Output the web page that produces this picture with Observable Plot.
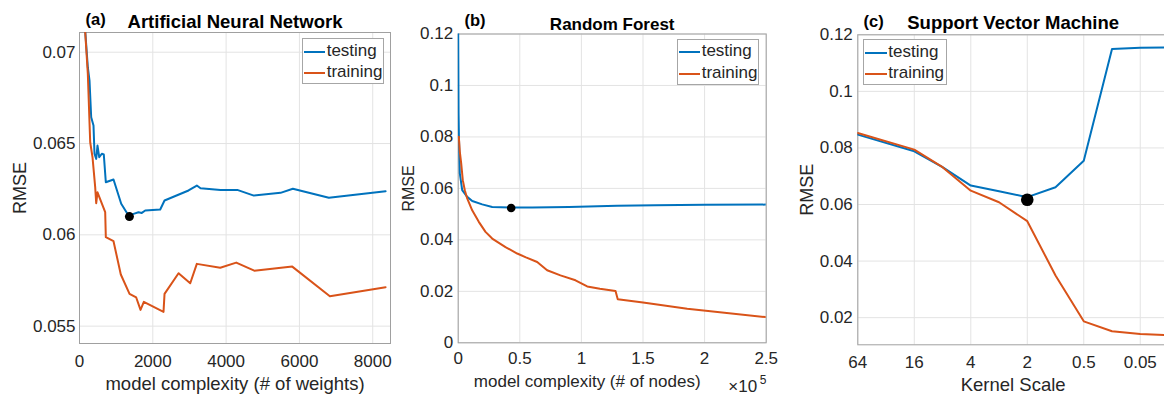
<!DOCTYPE html>
<html><head><meta charset="utf-8">
<script src="https://cdn.jsdelivr.net/npm/d3@7"></script>
<script src="https://cdn.jsdelivr.net/npm/@observablehq/plot@0.6"></script>
<style>
html,body{margin:0;padding:0;background:#fff;overflow:hidden}
#fig{position:relative;width:1164px;height:396px;overflow:hidden;font-family:'Liberation Sans',Arial,Helvetica,sans-serif;color:#262626}
.abs{position:absolute}
.lg{position:absolute;border:1px solid #a6a6a6;background:#fff;box-sizing:border-box}
.lgline{position:absolute;height:2px}
.lgtxt{position:absolute;font-size:17px;line-height:17px;color:#262626;white-space:nowrap}
</style></head><body><div id="fig"></div>
<script>
// ---- data ----
const annTestX = [140, 227, 273, 319, 382, 409, 456, 491, 538, 609, 663, 718, 928, 1138, 1337, 1474, 1610, 1700, 1793, 2202, 2320, 2975, 3201, 3302, 3848, 4304, 4757, 5485, 5821, 6803, 8351];
const annTestY = [0.0716, 0.06918, 0.06845, 0.06644, 0.06599, 0.06444, 0.06416, 0.06489, 0.06425, 0.06444, 0.0644, 0.06288, 0.06303, 0.0617, 0.06106, 0.06115, 0.06124, 0.0612, 0.06133, 0.06139, 0.06188, 0.06243, 0.0627, 0.06255, 0.06246, 0.06246, 0.06215, 0.0623, 0.06252, 0.06203, 0.06239];
const annTrainX = [140, 227, 292, 355, 428, 456, 491, 701, 718, 928, 1127, 1365, 1547, 1665, 1755, 2292, 2320, 2702, 3021, 3201, 3840, 4276, 4768, 5805, 6831, 8351];
const annTrainY = [0.0716, 0.06882, 0.06507, 0.06425, 0.06261, 0.06173, 0.06233, 0.06124, 0.05987, 0.05965, 0.05783, 0.05677, 0.05657, 0.05589, 0.05633, 0.05578, 0.05677, 0.0579, 0.05735, 0.05841, 0.0582, 0.05848, 0.05804, 0.05826, 0.05664, 0.05713];
const annBest = [{x: 1362, y: 0.0610}];
const annXTicks = [0, 2000, 4000, 6000, 8000];
const annYTicks = [0.055, 0.06, 0.065, 0.07];

const rfTestX = [0, 300, 600, 1300, 3250, 7300, 11400, 19500, 27600, 43000, 60000, 90000, 129000, 160000, 200000, 250000];
const rfTestY = [0.121, 0.0892, 0.0801, 0.0658, 0.0593, 0.0567, 0.0551, 0.0538, 0.0528, 0.0526, 0.0526, 0.0528, 0.0533, 0.0535, 0.0536, 0.0537];
const rfTrainX = [500, 1300, 2430, 3730, 5360, 7300, 11360, 16720, 22160, 27600, 38400, 47900, 55000, 64100, 72200, 83000, 95200, 104700, 115000, 127700, 129500, 150000, 185900, 249400];
const rfTrainY = [0.0801, 0.0743, 0.0697, 0.0632, 0.0593, 0.0561, 0.0515, 0.047, 0.0431, 0.0405, 0.0372, 0.0347, 0.0332, 0.0314, 0.0282, 0.0262, 0.0243, 0.0219, 0.021, 0.0201, 0.0169, 0.0157, 0.0132, 0.01];
const rfBest = [{x: 43000, y: 0.0524}];
const rfXTicks = [0, 50000, 100000, 150000, 200000, 250000];
const rfYTicks = [0, 0.02, 0.04, 0.06, 0.08, 0.1, 0.12];

const svmPos = [0, 1, 1.5, 2, 2.5, 3, 3.5, 4, 4.5, 5, 5.5];
const svmTestY = [0.0847, 0.0788, 0.0732, 0.0667, 0.0647, 0.0626, 0.0661, 0.0755, 0.115, 0.1154, 0.1155];
const svmTrainY = [0.0853, 0.0794, 0.0732, 0.0649, 0.0608, 0.0541, 0.0349, 0.0187, 0.0152, 0.0142, 0.0138];
const svmBest = [{x: 3, y: 0.0617}];
const svmTickPos = [0, 1, 2, 3, 4, 5];
const svmTickLabels = ["64", "16", "4", "2", "0.5", "0.05"];
const svmYTicks = [0.02, 0.04, 0.06, 0.08, 0.1, 0.12];

// ---- drawing ----
const BLUE = "#0072BD", ORANGE = "#D95319";
const FONT = "'Liberation Sans', Arial, Helvetica, sans-serif";
const fig = document.getElementById("fig");
const numFmt = d => String(+d.toFixed(4));
const zip = (xs, ys) => xs.map((x, i) => ({x, y: ys[i]}));

function panel(o) {
  const p = Plot.plot({
    width: o.width, height: 396,
    marginLeft: o.ml, marginRight: o.mr, marginTop: o.mt, marginBottom: o.mb,
    x: {domain: o.xDomain, axis: null},
    y: {domain: o.yDomain, axis: null},
    style: {position: "absolute", left: o.left + "px", top: "0px", background: "transparent",
            fontFamily: FONT, fontSize: "17px", color: "#262626", overflow: "visible"},
    marks: [
      Plot.gridX(o.xTicks, {stroke: "#e3e3e3", strokeOpacity: 1}),
      Plot.gridY(o.yTicks, {stroke: "#e3e3e3", strokeOpacity: 1}),
      Plot.axisX(o.xTicks, {tickSize: 0, tickPadding: o.xPad, tickFormat: o.xFmt, label: null, fontSize: 17, fill: "#262626"}),
      Plot.axisY(o.yTicks, {tickSize: 0, tickPadding: o.yPad, tickFormat: o.yFmt, label: null, fontSize: 17, fill: "#262626"}),
      Plot.frame({stroke: "#a0a0a0"}),
      Plot.line(o.test, {x: "x", y: "y", stroke: BLUE, strokeWidth: 2, strokeLinejoin: "round", clip: true}),
      Plot.line(o.train, {x: "x", y: "y", stroke: ORANGE, strokeWidth: 2, strokeLinejoin: "round", clip: true}),
      Plot.dot(o.best, {x: "x", y: "y", r: o.r, fill: "black"}),
      Plot.text([o.title], {frameAnchor: "top", dy: o.titleDy, lineAnchor: "bottom", fontWeight: "bold", fontSize: o.titleSize, fill: "#000"}),
      Plot.text([o.tag], {frameAnchor: "top-left", dx: o.tagDx, dy: o.tagDy, textAnchor: "start", lineAnchor: "bottom", fontWeight: "bold", fontSize: 16.5, fill: "#000"}),
      Plot.text(["RMSE"], {frameAnchor: "left", dx: o.yLabDx, rotate: -90, textAnchor: "middle", lineAnchor: "middle", fontSize: o.yLabSize, fill: "#262626"}),
      Plot.text([o.xLabel], {frameAnchor: "bottom", dx: o.xLabDx, dy: o.xLabDy, lineAnchor: "bottom", fontSize: o.xLabSize, fill: "#262626"}),
      ...(o.extra || [])
    ]
  });
  fig.appendChild(p);
}

function legend(bx, by, bw, bh, lx, lw, y1, y2, tx) {
  const box = document.createElement("div");
  box.className = "lg";
  Object.assign(box.style, {left: bx + "px", top: by + "px", width: bw + "px", height: bh + "px"});
  fig.appendChild(box);
  [[y1, BLUE, "testing"], [y2, ORANGE, "training"]].forEach(([y, c, t]) => {
    const l = document.createElement("div");
    l.className = "lgline";
    Object.assign(l.style, {left: lx + "px", top: (y - 1) + "px", width: lw + "px", background: c});
    fig.appendChild(l);
    const s = document.createElement("div");
    s.className = "lgtxt";
    s.textContent = t;
    Object.assign(s.style, {left: tx + "px", top: (y - 10) + "px"});
    fig.appendChild(s);
  });
}

panel({
  left: 0, width: 400, ml: 79, mr: 10, mt: 32, mb: 53,
  xDomain: [0, 8485], yDomain: [0.05405, 0.07108],
  xTicks: annXTicks, yTicks: annYTicks, xFmt: d => String(d), yFmt: numFmt,
  xPad: 11, yPad: 4,
  test: zip(annTestX, annTestY), train: zip(annTrainX, annTrainY), best: annBest, r: 4.5,
  title: "Artificial Neural Network", titleDy: -5, titleSize: 18.5,
  tag: "(a)", tagDx: 6, tagDy: -7.5,
  yLabDx: -59, yLabSize: 18,
  xLabel: "model complexity (# of weights)", xLabDx: 0, xLabDy: 46, xLabSize: 18.5
});

panel({
  left: 400, width: 380, ml: 57.7, mr: 14.3, mt: 33.5, mb: 53.7,
  xDomain: [0, 250000], yDomain: [0, 0.12],
  xTicks: rfXTicks, yTicks: rfYTicks, xFmt: d => String(d / 1e5), yFmt: numFmt,
  xPad: 9, yPad: 5,
  test: zip(rfTestX, rfTestY), train: zip(rfTrainX, rfTrainY), best: rfBest, r: 4.3,
  title: "Random Forest", titleDy: -4.5, titleSize: 17,
  tag: "(b)", tagDx: 6.3, tagDy: -8,
  yLabDx: -49.4, yLabSize: 16,
  xLabel: "model complexity (# of nodes)", xLabDx: -25, xLabDy: 43.7, xLabSize: 17,
  extra: [
    Plot.text(["\u00d710"], {frameAnchor: "bottom-right", dx: -9, dy: 49.4, textAnchor: "end", lineAnchor: "bottom", fontSize: 17, fill: "#262626"}),
    Plot.text(["5"], {frameAnchor: "bottom-right", dx: -6.4, dy: 41, textAnchor: "start", lineAnchor: "bottom", fontSize: 12, fill: "#262626"})
  ]
});

panel({
  left: 780, width: 388, ml: 77.3, mr: 0, mt: 34.3, mb: 51.7,
  xDomain: [0, 5.5], yDomain: [0.0104, 0.12],
  xTicks: svmTickPos, yTicks: svmYTicks, xFmt: (d, i) => svmTickLabels[svmTickPos.indexOf(d)], yFmt: numFmt,
  xPad: 11, yPad: 5,
  test: zip(svmPos, svmTestY), train: zip(svmPos, svmTrainY), best: svmBest, r: 6.3,
  title: "Support Vector Machine", titleDy: -6.3, titleSize: 18.5,
  tag: "(c)", tagDx: 5.7, tagDy: -8.3,
  yLabDx: -50.6, yLabSize: 18,
  xLabel: "Kernel Scale", xLabDx: 0, xLabDy: 46.4, xLabSize: 18.5
});

legend(301.7, 38.3, 82.6, 45.7, 304, 21, 51.7, 72.7, 326.7);
legend(676.7, 39.3, 82.6, 46, 678.7, 21.3, 51.7, 74, 701.7);
legend(863.3, 39.3, 83.4, 46, 865, 21.7, 52.7, 74, 888.3);
</script></body></html>
